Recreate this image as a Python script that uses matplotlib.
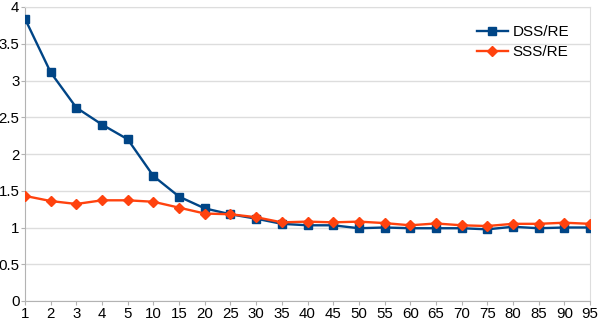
import matplotlib
matplotlib.use("Agg")
import matplotlib.pyplot as plt
from matplotlib.ticker import FuncFormatter

categories = ["1", "2", "3", "4", "5", "10", "15", "20", "25", "30", "35", "40",
              "45", "50", "55", "60", "65", "70", "75", "80", "85", "90", "95"]
dss_re = [3.84, 3.11, 2.63, 2.40, 2.20, 1.70, 1.42, 1.26, 1.18, 1.12, 1.05, 1.03,
          1.03, 0.99, 1.00, 0.99, 0.99, 0.99, 0.975, 1.01, 0.99, 1.00, 1.00]
sss_re = [1.43, 1.36, 1.32, 1.37, 1.37, 1.35, 1.27, 1.19, 1.18, 1.14, 1.07, 1.08,
          1.07, 1.08, 1.06, 1.03, 1.055, 1.03, 1.02, 1.05, 1.05, 1.065, 1.05]
y_ticks = [0, 0.5, 1, 1.5, 2, 2.5, 3, 3.5, 4]

plt.rcParams['font.family'] = ['Liberation Sans', 'DejaVu Sans']

fig = plt.figure(figsize=(6, 3.2), dpi=100)
ax = fig.add_axes([25/600, 1-301/320, (590-25)/600, (301-7)/320])

x = list(range(len(categories)))
ax.plot(x, dss_re, color='#004586', linewidth=1.7, marker='s', markersize=6.3,
        label='DSS/RE', zorder=3)
ax.plot(x, sss_re, color='#ff420e', linewidth=1.7, marker='D', markersize=4.6,
        label='SSS/RE', zorder=4)

ax.set_xlim(0, len(categories) - 1)
ax.set_ylim(0, 4)
ax.set_xticks(x)
ax.set_xticklabels(categories)
ax.set_yticks(y_ticks)
ax.yaxis.set_major_formatter(FuncFormatter(lambda v, p: ('%g' % v)))
ax.grid(axis='y', color='#dddddd', linewidth=1)
ax.set_axisbelow(True)
for s in ['left', 'bottom']:
    ax.spines[s].set_color('#b3b3b3')
for s in ['top', 'right']:
    ax.spines[s].set_color('#dddddd')
ax.tick_params(axis='both', colors='#b3b3b3', labelcolor='black', labelsize=10.8,
               length=3, pad=1)

ax.legend(loc='upper right', bbox_to_anchor=(0.987, 0.985), frameon=False,
          fontsize=11, handlelength=2.0, handletextpad=0.3, labelspacing=0.4)

fig.savefig('out.png', dpi=100)
